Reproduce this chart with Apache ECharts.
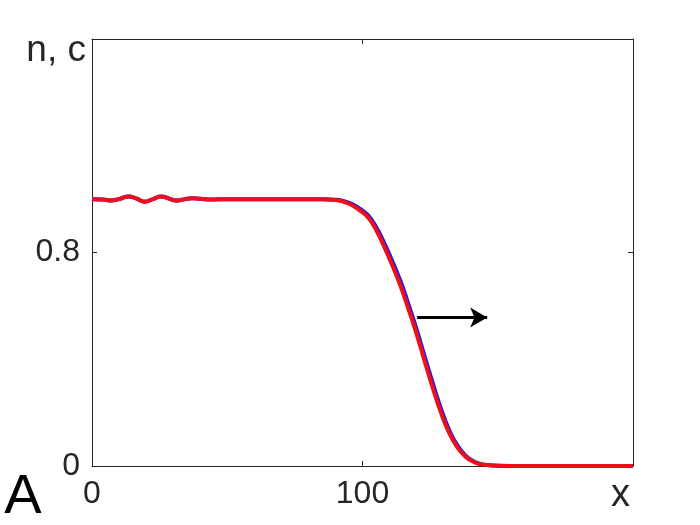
<!DOCTYPE html>
<html>
<head>
<meta charset="utf-8">
<script src="https://cdn.jsdelivr.net/npm/echarts@6/dist/echarts.min.js"></script>
<style>html,body{margin:0;padding:0;background:#fff;}#chart{width:700px;height:525px;}</style>
</head>
<body>
<div id="chart"></div>
<script>
// position along the domain
var xs = [0, 4, 7, 10, 13.5, 16.5, 19.5, 22.5, 25.5, 28.5, 31, 34, 37, 40, 45, 50, 60, 70, 80, 86, 90, 93, 96, 99, 102, 105, 108, 111, 114, 117, 120, 123, 126, 129, 132, 135, 138, 141, 144, 148, 155, 170, 185, 200];
// n (blue)
var nVals = [1.000, 0.999, 0.995, 1.000, 1.010, 1.002, 0.990, 1.000, 1.010, 1.002, 0.995, 0.999, 1.003, 1.001, 0.999, 1.000, 1.000, 1.000, 1.000, 1.000, 0.998, 0.993, 0.982, 0.964, 0.940, 0.896, 0.836, 0.768, 0.694, 0.606, 0.512, 0.410, 0.310, 0.215, 0.136, 0.078, 0.040, 0.018, 0.007, 0.002, 0.000, 0.000, 0.000, 0.000];
// c (red)
var cVals = [1.000, 0.999, 0.995, 1.000, 1.010, 1.002, 0.990, 1.000, 1.010, 1.002, 0.995, 0.999, 1.003, 1.001, 0.999, 1.000, 1.000, 1.000, 1.000, 0.999, 0.997, 0.990, 0.978, 0.958, 0.932, 0.885, 0.822, 0.752, 0.676, 0.588, 0.494, 0.392, 0.292, 0.200, 0.125, 0.071, 0.036, 0.016, 0.006, 0.002, 0.000, 0.000, 0.000, 0.000];
// arrow (direction of travel)
var arrowFrom = [120.2, 0.556];
var arrowTo = [146.1, 0.556];
// axis ticks
var xTicks = [0, 100, 200];
var yTicks = [0, 0.8, 1.6];

function pairs(x, y) { var out = []; for (var i = 0; i < x.length; i++) out.push([x[i], y[i]]); return out; }

var chart = echarts.init(document.getElementById('chart'), null, {renderer: 'canvas'});
var FONT = 'Liberation Sans, Arial, Helvetica, sans-serif';
var axisLineStyle = {color: '#262626', width: 1};
function boxAxis(pos, ticks, interval, withLabels, margin) {
  return {
    type: 'value', min: ticks[0], max: ticks[2], interval: interval, position: pos,
    axisLine: {show: true, onZero: false, lineStyle: axisLineStyle},
    axisTick: {show: true, inside: true, length: 5, lineStyle: axisLineStyle},
    splitLine: {show: false},
    axisLabel: withLabels ? {show: true, color: '#262626', fontFamily: FONT, fontSize: 32, margin: margin,
      formatter: function (v) { return v === ticks[2] ? '' : String(v); }} : {show: false}
  };
}
var option = {
  animation: false,
  backgroundColor: '#fff',
  grid: {left: 92, right: 67, top: 39, bottom: 59, containLabel: false, outerBoundsMode: 'none'},
  xAxis: [boxAxis('bottom', xTicks, 100, true, 12), boxAxis('top', xTicks, 100, false, 0)],
  yAxis: [boxAxis('left', yTicks, 0.8, true, 12), boxAxis('right', yTicks, 0.8, false, 0)],
  series: [{
    name: 'n', type: 'line', data: pairs(xs, nVals), showSymbol: false, smooth: 0.5,
    lineStyle: {color: '#2a1adc', width: 4}, z: 2
  }, {
    name: 'c', type: 'line', data: pairs(xs, cVals), showSymbol: false, smooth: 0.5,
    lineStyle: {color: '#ee0f1a', width: 4}, z: 3,
    markLine: {
      silent: true, animation: false,
      lineStyle: {color: '#000', width: 3, type: 'solid'},
      symbolSize: [15, 17],
      label: {show: false},
      data: [[{coord: arrowFrom, symbol: 'none'}, {coord: arrowTo, symbol: 'arrow'}]]
    }
  }],
  graphic: [
    {type: 'text', x: 86, y: 51, style: {text: 'n, c', fontSize: 37, fontFamily: FONT, fill: '#262626', align: 'right', verticalAlign: 'middle'}},
    {type: 'text', x: 620.5, y: 496, style: {text: 'x', fontSize: 38, fontFamily: FONT, fill: '#262626', align: 'center', verticalAlign: 'middle'}},
    {type: 'text', x: 23, y: 498, style: {text: 'A', fontSize: 56, fontFamily: FONT, fill: '#000', align: 'center', verticalAlign: 'middle'}}
  ]
};
chart.setOption(option);
</script>
</body>
</html>
